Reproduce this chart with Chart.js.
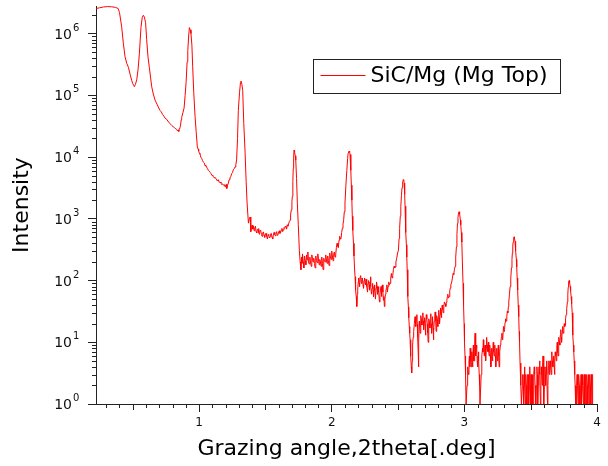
<!DOCTYPE html>
<html>
<head>
<meta charset="utf-8">
<script src="https://cdn.jsdelivr.net/npm/chart.js@4.4.1/dist/chart.umd.min.js"></script>
<style>
  html, body { margin: 0; padding: 0; background: #fff; }
  #wrap { width: 608px; height: 466px; }
</style>
</head>
<body>
<div id="wrap"><canvas id="chart" width="608" height="466"></canvas></div>
<script>
const seriesLabel = "SiC/Mg (Mg Top)";
const xTitle = "Grazing angle,2theta[.deg]";
const yTitle = "Intensity";
const xTicks = [1, 2, 3, 4];
const yExponents = [0, 1, 2, 3, 4, 5, 6];

// 2theta (deg)
const angle = [
  0.225, 0.25, 0.28, 0.31, 0.34, 0.37, 0.39, 0.40, 0.41, 0.417,
  0.429, 0.442, 0.455, 0.467, 0.48, 0.492, 0.50, 0.507, 0.512, 0.52,
  0.53, 0.54, 0.55, 0.562, 0.572, 0.58, 0.588, 0.597, 0.605, 0.615,
  0.625, 0.635, 0.643, 0.655, 0.668, 0.685, 0.70, 0.706, 0.715, 0.725,
  0.735, 0.743, 0.755, 0.77, 0.78, 0.794, 0.805, 0.815, 0.825, 0.832,
  0.838, 0.842, 0.847, 0.851, 0.856, 0.86, 0.865, 0.869, 0.878, 0.887,
  0.895, 0.902, 0.91, 0.915, 0.922, 0.927, 0.933, 0.939, 0.946, 0.952,
  0.96, 0.97, 0.978, 0.987, 0.993, 0.997, 1.003, 1.007, 1.013, 1.02,
  1.026, 1.032, 1.04, 1.045, 1.05, 1.057, 1.063, 1.07, 1.078, 1.085,
  1.09, 1.098, 1.103, 1.108, 1.115, 1.12, 1.13, 1.138, 1.145, 1.152,
  1.158, 1.165, 1.17, 1.175, 1.183, 1.19, 1.196, 1.2, 1.205, 1.209,
  1.213, 1.221, 1.227, 1.233, 1.24, 1.246, 1.252, 1.258, 1.265, 1.271,
  1.277, 1.283, 1.29, 1.296, 1.305, 1.312, 1.316, 1.323, 1.329, 1.337,
  1.347, 1.355, 1.362, 1.372, 1.378, 1.385, 1.39, 1.395, 1.40, 1.405,
  1.41, 1.415, 1.42, 1.425, 1.43, 1.435, 1.44, 1.445, 1.45, 1.455,
  1.46, 1.465, 1.47, 1.475, 1.48, 1.485, 1.49, 1.495, 1.50, 1.505,
  1.51, 1.515, 1.52, 1.525, 1.53, 1.535, 1.54, 1.545, 1.55, 1.555,
  1.56, 1.565, 1.57, 1.575, 1.58, 1.585, 1.59, 1.595, 1.60, 1.605,
  1.61, 1.615, 1.62, 1.625, 1.63, 1.635, 1.64, 1.645, 1.65, 1.655,
  1.66, 1.665, 1.67, 1.675, 1.68, 1.686, 1.69, 1.695, 1.70, 1.703,
  1.707, 1.71, 1.713, 1.716, 1.72, 1.725, 1.729, 1.735, 1.741, 1.748,
  1.756, 1.762, 1.768, 1.772, 1.776, 1.78, 1.785, 1.79, 1.795, 1.80,
  1.805, 1.81, 1.815, 1.82, 1.825, 1.83, 1.835, 1.84, 1.845, 1.85,
  1.855, 1.86, 1.865, 1.87, 1.875, 1.88, 1.885, 1.89, 1.895, 1.90,
  1.905, 1.91, 1.915, 1.92, 1.925, 1.93, 1.935, 1.94, 1.945, 1.95,
  1.955, 1.96, 1.965, 1.97, 1.975, 1.98, 1.985, 1.99, 1.995, 2.00,
  2.005, 2.01, 2.015, 2.02, 2.025, 2.03, 2.035, 2.04, 2.045, 2.05,
  2.055, 2.06, 2.065, 2.07, 2.075, 2.08, 2.085, 2.09, 2.095, 2.10,
  2.107, 2.114, 2.12, 2.124, 2.131, 2.135, 2.138, 2.144, 2.148, 2.152,
  2.155, 2.159, 2.164, 2.168, 2.172, 2.176, 2.18, 2.185, 2.189, 2.193,
  2.196, 2.2, 2.203, 2.207, 2.21, 2.214, 2.218, 2.222, 2.225, 2.229,
  2.232, 2.236, 2.24, 2.244, 2.248, 2.252, 2.255, 2.259, 2.262, 2.266,
  2.27, 2.274, 2.278, 2.282, 2.285, 2.289, 2.292, 2.296, 2.30, 2.304,
  2.308, 2.312, 2.315, 2.319, 2.322, 2.326, 2.33, 2.334, 2.338, 2.342,
  2.345, 2.349, 2.352, 2.356, 2.36, 2.364, 2.368, 2.372, 2.375, 2.379,
  2.382, 2.386, 2.39, 2.394, 2.397, 2.401, 2.405, 2.409, 2.412, 2.416,
  2.42, 2.425, 2.43, 2.435, 2.44, 2.445, 2.45, 2.455, 2.46, 2.465,
  2.47, 2.475, 2.478, 2.484, 2.49, 2.497, 2.503, 2.508, 2.512, 2.517,
  2.521, 2.526, 2.53, 2.535, 2.54, 2.543, 2.546, 2.55, 2.553, 2.556,
  2.56, 2.563, 2.566, 2.569, 2.572, 2.575, 2.578, 2.581, 2.585, 2.588,
  2.591, 2.594, 2.597, 2.6, 2.603, 2.607, 2.61, 2.614, 2.618, 2.623,
  2.628, 2.632, 2.635, 2.638, 2.642, 2.645, 2.648, 2.651, 2.654, 2.657,
  2.66, 2.664, 2.667, 2.67, 2.673, 2.677, 2.68, 2.684, 2.687, 2.69,
  2.693, 2.697, 2.70, 2.704, 2.707, 2.71, 2.713, 2.717, 2.72, 2.724,
  2.727, 2.73, 2.733, 2.737, 2.74, 2.744, 2.747, 2.75, 2.753, 2.757,
  2.76, 2.764, 2.767, 2.77, 2.773, 2.777, 2.78, 2.784, 2.787, 2.79,
  2.793, 2.797, 2.80, 2.804, 2.807, 2.81, 2.813, 2.817, 2.82, 2.824,
  2.827, 2.83, 2.833, 2.837, 2.84, 2.845, 2.85, 2.855, 2.86, 2.864,
  2.868, 2.872, 2.875, 2.88, 2.885, 2.89, 2.893, 2.898, 2.905, 2.91,
  2.915, 2.92, 2.925, 2.93, 2.935, 2.94, 2.944, 2.948, 2.952, 2.955,
  2.96, 2.963, 2.966, 2.97, 2.973, 2.977, 2.981, 2.985, 2.99, 2.994,
  2.998, 3.001, 3.005, 3.009, 3.013, 3.017, 3.02, 3.025, 3.031, 3.035,
  3.038, 3.041, 3.044, 3.047, 3.05, 3.053, 3.056, 3.059, 3.062, 3.065,
  3.068, 3.071, 3.075, 3.078, 3.081, 3.084, 3.087, 3.09, 3.093, 3.097,
  3.10, 3.103, 3.106, 3.109, 3.112, 3.115, 3.118, 3.121, 3.124, 3.127,
  3.13, 3.133, 3.137, 3.14, 3.143, 3.146, 3.15, 3.153, 3.156, 3.159,
  3.162, 3.165, 3.168, 3.171, 3.175, 3.178, 3.181, 3.184, 3.187, 3.19,
  3.193, 3.197, 3.20, 3.203, 3.206, 3.209, 3.212, 3.215, 3.218, 3.221,
  3.225, 3.228, 3.231, 3.234, 3.237, 3.24, 3.243, 3.246, 3.25, 3.253,
  3.256, 3.259, 3.262, 3.265, 3.268, 3.272, 3.275, 3.279, 3.283, 3.287,
  3.29, 3.295, 3.299, 3.303, 3.307, 3.31, 3.315, 3.32, 3.324, 3.328,
  3.332, 3.335, 3.34, 3.345, 3.35, 3.355, 3.359, 3.362, 3.365, 3.368,
  3.372, 3.375, 3.378, 3.382, 3.385, 3.388, 3.392, 3.395, 3.398, 3.402,
  3.406, 3.41, 3.413, 3.416, 3.42, 3.424, 3.427, 3.43, 3.433, 3.437,
  3.44, 3.443, 3.447, 3.45, 3.453, 3.457, 3.46, 3.463, 3.467, 3.47,
  3.473, 3.477, 3.48, 3.483, 3.487, 3.49, 3.493, 3.497, 3.50, 3.503,
  3.507, 3.51, 3.513, 3.517, 3.52, 3.523, 3.527, 3.53, 3.533, 3.537,
  3.54, 3.543, 3.547, 3.55, 3.553, 3.557, 3.56, 3.563, 3.567, 3.57,
  3.573, 3.577, 3.58, 3.583, 3.587, 3.59, 3.593, 3.597, 3.60, 3.603,
  3.607, 3.61, 3.613, 3.617, 3.62, 3.623, 3.627, 3.63, 3.633, 3.637,
  3.64, 3.643, 3.647, 3.65, 3.655, 3.658, 3.66, 3.663, 3.667, 3.67,
  3.673, 3.677, 3.68, 3.683, 3.685, 3.69, 3.693, 3.697, 3.70, 3.703,
  3.707, 3.71, 3.713, 3.717, 3.72, 3.723, 3.727, 3.73, 3.733, 3.737,
  3.74, 3.743, 3.747, 3.75, 3.753, 3.757, 3.76, 3.763, 3.767, 3.77,
  3.773, 3.777, 3.78, 3.783, 3.786, 3.79, 3.792, 3.795, 3.798, 3.801,
  3.805, 3.808, 3.81, 3.813, 3.816, 3.819, 3.822, 3.825, 3.828, 3.832,
  3.835, 3.839, 3.843, 3.846, 3.85, 3.853, 3.857, 3.86, 3.863, 3.867,
  3.87, 3.873, 3.877, 3.88, 3.883, 3.887, 3.89, 3.893, 3.897, 3.90,
  3.903, 3.907, 3.91, 3.913, 3.917, 3.92, 3.923, 3.927, 3.93, 3.933,
  3.937, 3.94, 3.943, 3.947, 3.95, 3.953, 3.957, 3.96, 3.963, 3.967,
  3.97
];

// counts, same order as angle
const intensity = [
  2.55e6, 2.62e6, 2.70e6, 2.74e6, 2.72e6, 2.66e6, 2.55e6, 2.2e6, 1.6e6, 1.27e6,
  7.0e5, 4.2e5, 3.3e5, 2.85e5, 2.2e5, 1.75e5, 1.55e5, 1.45e5, 1.38e5, 1.5e5,
  1.78e5, 2.6e5, 4.7e5, 1.25e6, 1.85e6, 1.98e6, 1.85e6, 1.5e6, 8.0e5, 4.2e5,
  2.85e5, 1.9e5, 1.38e5, 1.05e5, 8.4e4, 7.0e4, 6.0e4, 5.7e4, 5.4e4, 4.9e4,
  4.6e4, 4.3e4, 4.1e4, 3.7e4, 3.5e4, 3.25e4, 3.1e4, 3.0e4, 2.85e4, 2.8e4,
  2.65e4, 2.75e4, 2.6e4, 2.9e4, 3.0e4, 3.2e4, 4.0e4, 4.4e4, 5.2e4, 6.2e4,
  1.0e5, 1.6e5, 3.5e5, 5.3e5, 9.5e5, 1.25e6, 1.15e6, 1.0e6, 6.5e5, 2.9e5,
  1.1e5, 4.5e4, 2.6e4, 1.46e4, 1.35e4, 1.25e4, 1.15e4, 1.12e4, 1.0e4, 9.5e3,
  8.8e3, 8.3e3, 8.0e3, 7.2e3, 7.4e3, 6.9e3, 6.5e3, 6.1e3, 5.9e3, 5.6e3,
  5.4e3, 5.0e3, 5.1e3, 4.8e3, 4.6e3, 4.7e3, 4.4e3, 4.1e3, 4.3e3, 3.9e3,
  3.95e3, 3.8e3, 3.6e3, 3.7e3, 3.5e3, 3.6e3, 3.3e3, 3.5e3, 3.6e3, 3.1e3,
  3.4e3, 3.8e3, 4.3e3, 4.6e3, 4.9e3, 5.4e3, 5.6e3, 6.2e3, 6.5e3, 6.9e3,
  7.5e3, 9.0e3, 2.0e4, 5.7e4, 1.1e5, 1.6e5, 1.7e5, 1.5e5, 1.2e5, 3.5e4,
  1.2e4, 4.0e3, 1.8e3, 850, 1000, 1070, 620, 720, 790, 680,
  760, 640, 710, 760, 620, 590, 670, 690, 600, 560,
  650, 640, 560, 520, 600, 610, 540, 500, 570, 580,
  520, 470, 540, 560, 490, 510, 570, 580, 500, 470,
  540, 600, 560, 530, 590, 620, 540, 560, 610, 640,
  580, 600, 660, 700, 620, 660, 720, 700, 760, 740,
  680, 800, 760, 820, 900, 950, 1150, 1400, 1900, 2300,
  4000, 6500, 10000, 12900, 12000, 10500, 8900, 4500, 1790, 800,
  310, 200, 150, 240, 190, 270, 200, 160, 250, 210,
  180, 260, 215, 290, 200, 185, 240, 210, 170, 260,
  225, 200, 230, 190, 160, 250, 210, 195, 270, 230,
  180, 220, 200, 170, 240, 190, 150, 230, 205, 200,
  260, 215, 190, 250, 210, 175, 280, 240, 220, 300,
  250, 210, 270, 290, 240, 260, 340, 400, 360, 340,
  450, 520, 470, 480, 600, 700, 820, 950, 1300, 1800,
  3500, 6100, 9500, 11500, 12500, 12000, 11000, 6100, 3500, 2000,
  1100, 650, 400, 250, 160, 115, 70, 55, 38, 60,
  70, 95, 110, 90, 80, 115, 120, 95, 90, 110,
  105, 85, 75, 100, 110, 90, 85, 105, 95, 80,
  65, 90, 100, 85, 70, 95, 115, 80, 60, 75,
  90, 70, 55, 80, 85, 70, 50, 75, 95, 80,
  60, 70, 80, 65, 45, 60, 70, 80, 55, 70,
  85, 65, 48, 55, 38, 50, 60, 70, 75, 85,
  65, 80, 95, 85, 90, 110, 130, 110, 120, 150,
  170, 160, 165, 200, 230, 280, 310, 480, 700, 1100,
  1600, 2400, 3200, 4000, 4300, 4200, 3800, 2500, 1600, 1000,
  600, 380, 240, 150, 90, 55, 37, 25, 18, 14,
  11, 8, 6, 4, 3.2, 5, 9, 12, 15, 20,
  26, 21, 18, 24, 28, 20, 12, 8, 4, 10,
  22, 18, 14, 20, 27, 23, 19, 25, 30, 22,
  16, 21, 25, 18, 13, 20, 28, 24, 20, 14,
  10, 17, 24, 21, 17, 23, 29, 20, 14, 19,
  26, 17, 11, 16, 22, 27, 31, 22, 15, 20,
  27, 23, 18, 26, 33, 25, 20, 28, 36, 30,
  25, 32, 40, 34, 30, 38, 45, 42, 38, 44,
  48, 55, 60, 52, 55, 68, 75, 85, 95, 110,
  130, 125, 150, 170, 240, 350, 550, 840, 1050, 1200,
  1300, 1250, 1200, 950, 800, 600, 420, 200, 90, 40,
  20, 10, 6, 3, 1, 1, 2, 4, 3, 5,
  6, 4, 8, 6, 5, 4, 7, 5, 4, 6,
  9, 5, 5, 10, 14, 8, 6, 9, 8, 5,
  4, 6, 7, 5, 3, 2, 1, 1, 1, 3,
  5, 6, 8, 7, 11, 8, 6, 7, 9, 6,
  5, 8, 12, 9, 7, 8, 10, 7, 6, 8,
  9, 6, 4, 6, 8, 6, 5, 7, 10, 7,
  6, 8, 9, 6, 4, 6, 8, 7, 5, 7,
  9, 6, 4, 6, 7, 9, 10, 12, 14, 11,
  12, 18, 15, 16, 21, 24, 22, 26, 32, 30,
  38, 45, 60, 80, 110, 160, 220, 280, 360, 420,
  490, 510, 480, 430, 380, 300, 220, 166, 110, 70,
  40, 26, 15, 10, 4.6, 3, 2, 1, 1, 2,
  3, 2, 1, 3, 4, 2, 1, 3, 2, 1,
  1, 3, 3, 1, 1, 2, 4, 2, 1, 3,
  1, 2, 3, 1, 1, 3, 4, 3, 2, 1,
  1, 2, 4, 3, 1, 2, 3, 4, 5, 3,
  1, 2, 4, 3, 2, 4, 6, 3, 1, 2,
  4, 3, 2, 4, 5, 3, 1, 2, 4, 5,
  3, 4, 5, 4, 3, 5, 7, 5, 4, 5,
  6, 4, 3, 5, 7, 6, 5, 8, 10, 7,
  6, 9, 12, 10, 9, 13, 16, 12, 10, 14,
  18, 15, 14, 17, 20, 18, 19, 24, 28, 30,
  35, 45, 60, 78, 95, 100, 100, 92, 80, 68,
  55, 48, 42, 30, 20, 13, 9, 7, 5, 3,
  2, 1, 1, 2, 3, 2, 1, 2, 3, 2,
  1, 1, 2, 3, 1, 2, 3, 2, 1, 2,
  3, 1, 1, 3, 2, 1, 3, 2, 1, 2,
  3, 1, 1, 3, 2, 1, 3, 2, 1, 3,
  3
];

const FONT = "'DejaVu Sans', Verdana, sans-serif";
const AXIS_COLOR = "#222";

// minor ticks + superscript decade labels, legend box
const axisDecor = {
  id: "axisDecor",
  afterDraw(chart) {
    const { ctx, chartArea: a } = chart;
    const x = chart.scales.x, y = chart.scales.y;
    ctx.save();
    ctx.strokeStyle = AXIS_COLOR;
    ctx.lineWidth = 1;
    ctx.beginPath();
    // x minor ticks every 0.1, medium every 0.5
    for (let i = Math.ceil(x.min * 10); i <= x.max * 10 + 0.001; i++) {
      if (i % 10 === 0) continue;
      const px = Math.round(x.getPixelForValue(i / 10)) + 0.5;
      const len = i % 5 === 0 ? 6 : 4;
      ctx.moveTo(px, a.bottom);
      ctx.lineTo(px, a.bottom + len);
    }
    // y minor ticks 2..9 per decade
    yExponents.forEach(e => {
      for (let m = 2; m <= 9; m++) {
        const v = m * Math.pow(10, e);
        if (v > y.max) break;
        const py = Math.round(y.getPixelForValue(v)) + 0.5;
        ctx.moveTo(a.left, py);
        ctx.lineTo(a.left - 4, py);
      }
    });
    ctx.stroke();

    // decade labels 10^n
    ctx.fillStyle = "#111";
    ctx.textBaseline = "alphabetic";
    yExponents.forEach(e => {
      const py = y.getPixelForValue(Math.pow(10, e));
      ctx.font = "14px " + FONT;
      ctx.textAlign = "right";
      ctx.fillText("10", a.left - 24, py + 5);
      ctx.font = "10px " + FONT;
      ctx.textAlign = "left";
      ctx.fillText(String(e), a.left - 23, py - 3);
    });
    ctx.restore();
  }
};

const legendBox = {
  id: "legendBox",
  afterDraw(chart) {
    const { ctx } = chart;
    const ds = chart.data.datasets[0];
    const bx = 313.5, by = 59.5, bw = 247, bh = 34;
    ctx.save();
    ctx.fillStyle = "#fff";
    ctx.fillRect(bx, by, bw, bh);
    ctx.strokeStyle = AXIS_COLOR;
    ctx.lineWidth = 1;
    ctx.strokeRect(bx, by, bw, bh);
    ctx.strokeStyle = ds.borderColor;
    ctx.beginPath();
    ctx.moveTo(bx + 7, by + 16);
    ctx.lineTo(bx + 52, by + 16);
    ctx.stroke();
    ctx.fillStyle = "#000";
    ctx.font = "22px " + FONT;
    ctx.textBaseline = "middle";
    ctx.textAlign = "left";
    ctx.fillText(ds.label, bx + 57, by + 17);
    ctx.restore();
  }
};

const points = angle.map((a, i) => ({ x: a, y: intensity[i] }));

new Chart(document.getElementById("chart"), {
  type: "line",
  data: {
    datasets: [{
      label: seriesLabel,
      data: points,
      borderColor: "#ff0000",
      borderWidth: 1,
      pointRadius: 0,
      tension: 0,
      fill: false
    }]
  },
  options: {
    responsive: false,
    animation: false,
    layout: { padding: { top: 6, right: 11, left: 0, bottom: 0 } },
    plugins: { legend: { display: false }, tooltip: { enabled: false } },
    scales: {
      x: {
        type: "linear",
        min: 0.223,
        max: 4,
        afterBuildTicks: s => { s.ticks = xTicks.map(v => ({ value: v })); },
        afterFit: s => { s.height = 62; },
        ticks: { font: { family: FONT, size: 12 }, color: "#111", padding: 4, maxRotation: 0, autoSkip: false },
        grid: { display: true, drawOnChartArea: false, drawTicks: true, tickLength: 8, tickColor: AXIS_COLOR },
        border: { display: true, color: AXIS_COLOR, width: 1 },
        title: { display: true, text: xTitle, color: "#000", font: { family: FONT, size: 22 }, padding: { top: 0, bottom: 4 } }
      },
      y: {
        type: "logarithmic",
        min: 1,
        max: 2.8e6,
        afterBuildTicks: s => { s.ticks = yExponents.map(e => ({ value: Math.pow(10, e) })); },
        afterFit: s => { s.width = 96; },
        ticks: { display: false },
        grid: { display: true, drawOnChartArea: false, drawTicks: true, tickLength: 8, tickColor: AXIS_COLOR },
        border: { display: true, color: AXIS_COLOR, width: 1 },
        title: { display: true, text: yTitle, color: "#000", font: { family: FONT, size: 22 }, padding: { top: 9, bottom: 0 } }
      }
    }
  },
  plugins: [axisDecor, legendBox]
});
</script>
</body>
</html>
